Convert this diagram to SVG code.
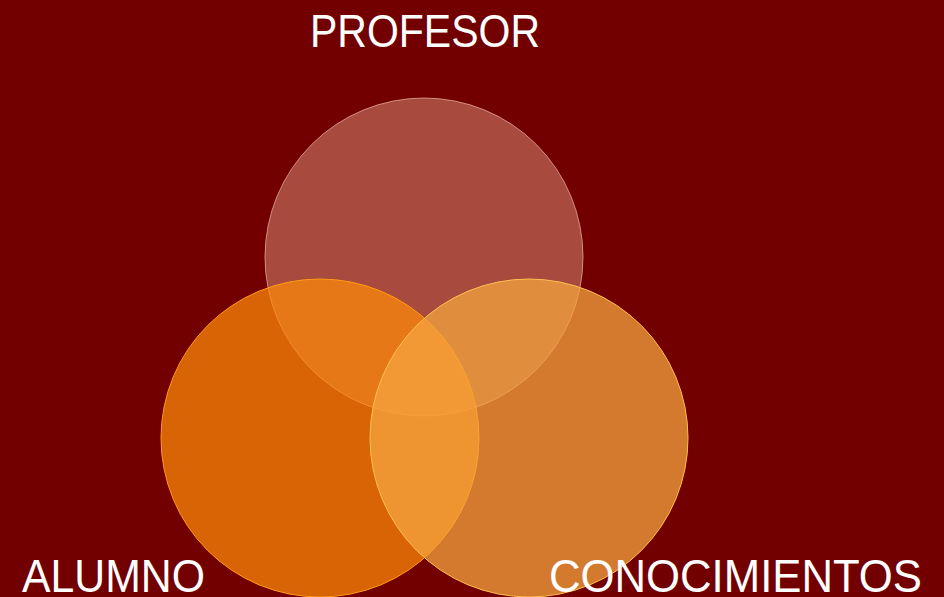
<svg xmlns="http://www.w3.org/2000/svg" width="944" height="597" viewBox="0 0 944 597">
<style>
.lbl{font-family:'Liberation Sans Narrow','Liberation Sans',Arial,sans-serif;font-size:47px;fill:#ffffff}
.c{stroke-width:1}
</style>
<rect width="944" height="597" fill="#720000"/>
<g id="profesor-circle">
<circle class="c" cx="424" cy="257" r="159" fill="#eaa488" fill-opacity="0.45" stroke="#f0b8a8" stroke-opacity="0.7"/>
</g>
<g id="alumno-circle">
<circle class="c" cx="320" cy="438" r="159" fill="#ff8a08" fill-opacity="0.72" stroke="#ff9c10"/>
</g>
<g id="conocimientos-circle">
<circle class="c" cx="529" cy="438" r="159" fill="#f6a540" fill-opacity="0.74" stroke="#ffc050"/>
</g>
<g id="connectors"/>
<g id="labels">
<text class="lbl" x="310" y="47" textLength="230" lengthAdjust="spacingAndGlyphs">PROFESOR</text>
<text class="lbl" x="22" y="592" textLength="183" lengthAdjust="spacingAndGlyphs">ALUMNO</text>
<text class="lbl" x="549" y="592" textLength="373" lengthAdjust="spacingAndGlyphs">CONOCIMIENTOS</text>
</g>
</svg>
